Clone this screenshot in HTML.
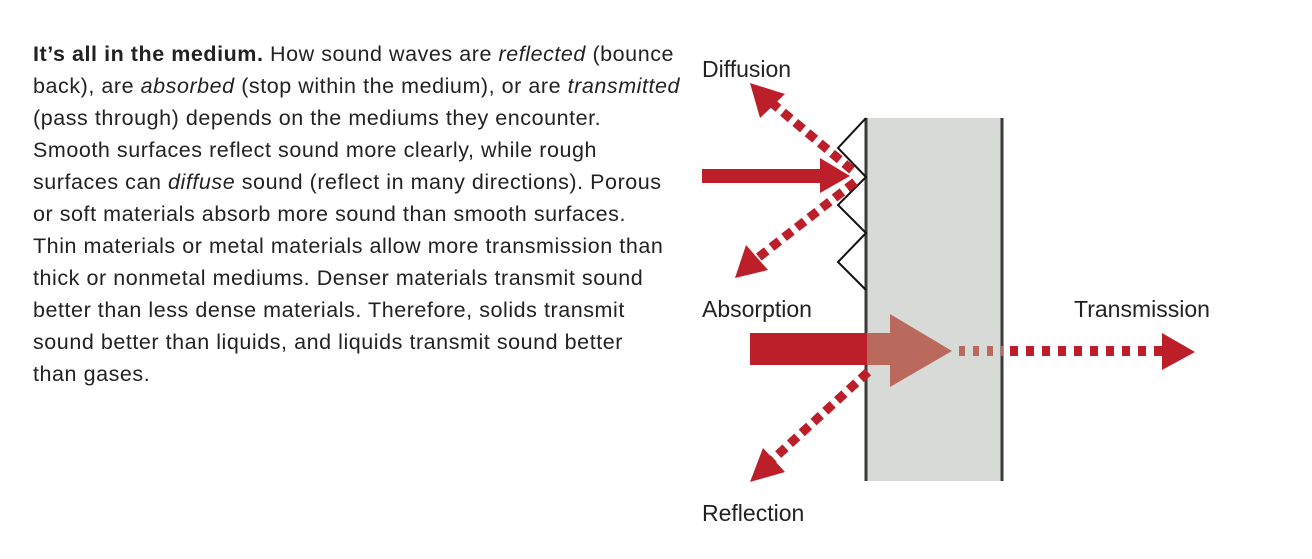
<!DOCTYPE html>
<html><head><meta charset="utf-8"><style>
body{margin:0;width:1312px;height:559px;background:#fff;position:relative;overflow:hidden}
#t{position:absolute;left:33px;top:38px;font-family:"Liberation Sans",sans-serif;font-size:21.5px;line-height:32px;color:#222;white-space:nowrap;letter-spacing:0.55px}
#t div{height:32px}
svg{position:absolute;left:0;top:0}
</style></head><body>
<div id="t">
<div><b>It’s all in the medium.</b> How sound waves are <i>reflected</i> (bounce</div>
<div>back), are <i>absorbed</i> (stop within the medium), or are <i>transmitted</i></div>
<div>(pass through) depends on the mediums they encounter.</div>
<div>Smooth surfaces reflect sound more clearly, while rough</div>
<div>surfaces can <i>diffuse</i> sound (reflect in many directions). Porous</div>
<div>or soft materials absorb more sound than smooth surfaces.</div>
<div>Thin materials or metal materials allow more transmission than</div>
<div>thick or nonmetal mediums. Denser materials transmit sound</div>
<div>better than less dense materials. Therefore, solids transmit</div>
<div>sound better than liquids, and liquids transmit sound better</div>
<div>than gases.</div>
</div>
<svg width="1312" height="559" font-family="Liberation Sans, sans-serif" font-size="23" fill="#222">
<rect x="866" y="118" width="137" height="363" fill="#d8dad8"/>
<line x1="866" y1="118" x2="866" y2="481" stroke="#3a3a3a" stroke-width="3"/>
<line x1="1002" y1="118" x2="1002" y2="481" stroke="#3a3a3a" stroke-width="3"/>
<polyline points="866,118 838,148 866,177 838,205 866,233 838,262 866,290" fill="none" stroke="#111" stroke-width="2"/>
<rect x="702" y="169" width="120" height="14" fill="#bc1f29"/>
<polygon points="820,158 850,176 820,193" fill="#bc1f29"/>
<line x1="852" y1="170" x2="772" y2="103" stroke="#bc1f29" stroke-width="9" stroke-dasharray="10,6"/>
<polygon points="750,83 785,94 760,118" fill="#bc1f29"/>
<line x1="855" y1="182" x2="755" y2="260" stroke="#bc1f29" stroke-width="9" stroke-dasharray="10,6"/>
<polygon points="735,278 746,245 768,270" fill="#bc1f29"/>
<rect x="750" y="333" width="117" height="32" fill="#bc1f29"/>
<rect x="867" y="333" width="25" height="32" fill="#b96a5c"/>
<polygon points="890,314 952,351 890,387" fill="#b96a5c"/>
<line x1="959" y1="351" x2="1003" y2="351" stroke="#b96a5c" stroke-width="10" stroke-dasharray="6,8"/>
<line x1="1010" y1="351" x2="1162" y2="351" stroke="#bc1f29" stroke-width="10" stroke-dasharray="8,8"/>
<polygon points="1162,333 1195,352 1162,370" fill="#bc1f29"/>
<line x1="868" y1="372" x2="770" y2="462" stroke="#bc1f29" stroke-width="9" stroke-dasharray="10,6"/>
<polygon points="750,482 763,448 785,472" fill="#bc1f29"/>
<text x="702" y="77">Diffusion</text>
<text x="702" y="317">Absorption</text>
<text x="1074" y="317">Transmission</text>
<text x="702" y="521">Reflection</text>
</svg>
</body></html>
